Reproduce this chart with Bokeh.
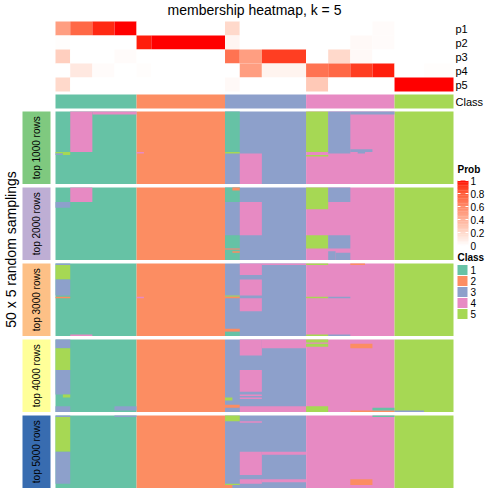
import numpy as np
from bokeh.plotting import figure
from bokeh.models import Range1d
from bokeh.embed import file_html
from bokeh.resources import INLINE
from bokeh.core.properties import value

# ---------------- data ----------------
title_text = "membership heatmap, k = 5"
row_title = "50 x 5 random samplings"

class_labels = [1, 1, 1, 1, 1, 1, 1, 1, 1, 1, 1,
                2, 2, 2, 2, 2, 2, 2, 2, 2, 2, 2, 2,
                3, 3, 3, 3, 3, 3, 3, 3, 3, 3, 3,
                4, 4, 4, 4, 4, 4, 4, 4, 4, 4, 4, 4,
                5, 5, 5, 5, 5, 5, 5, 5]

prob_names = ["p1", "p2", "p3", "p4", "p5"]
p1 = [0.5, 0.5, 0.75, 0.75, 0.75, 0.95, 0.95, 0.95, 1.0, 1.0, 1.0,
      0, 0, 0, 0, 0, 0, 0, 0, 0, 0, 0, 0,
      0.2, 0.2, 0, 0, 0, 0, 0, 0, 0, 0, 0,
      0, 0, 0, 0, 0, 0, 0, 0, 0, 0.02, 0.02, 0.02,
      0, 0, 0, 0, 0, 0, 0, 0]
p2 = [0.01, 0.01, 0, 0, 0, 0, 0, 0, 0, 0, 0,
      0.97, 0.97, 1.0, 1.0, 1.0, 1.0, 1.0, 1.0, 1.0, 1.0, 1.0, 1.0,
      0.05, 0.05, 0, 0, 0, 0, 0, 0, 0, 0, 0,
      0, 0, 0, 0, 0, 0, 0.03, 0.03, 0.03, 0.02, 0.02, 0.02,
      0, 0, 0, 0, 0, 0, 0, 0]
p3 = [0.25, 0.25, 0, 0, 0, 0, 0, 0, 0.02, 0.02, 0.02,
      0, 0, 0, 0, 0, 0, 0, 0, 0, 0, 0, 0,
      0.7, 0.7, 0.5, 0.5, 0.5, 0.9, 0.9, 0.9, 0.9, 0.9, 0.9,
      0, 0, 0, 0.2, 0.2, 0.2, 0.03, 0.03, 0.03, 0, 0, 0,
      0, 0, 0, 0, 0, 0, 0, 0]
p4 = [0, 0, 0.12, 0.12, 0.12, 0.02, 0.02, 0.02, 0, 0, 0,
      0.01, 0.01, 0, 0, 0, 0, 0, 0, 0, 0, 0, 0,
      0, 0, 0.5, 0.5, 0.5, 0.06, 0.06, 0.06, 0.06, 0.06, 0.06,
      0.7, 0.7, 0.7, 0.75, 0.75, 0.75, 0.9, 0.9, 0.9, 0.97, 0.97, 0.97,
      0, 0, 0, 0, 0.01, 0.01, 0.01, 0.01]
p5 = [0.2, 0.2, 0, 0, 0, 0, 0, 0, 0, 0, 0,
      0, 0, 0, 0, 0, 0, 0, 0, 0, 0, 0, 0,
      0.03, 0.03, 0, 0, 0, 0, 0, 0, 0, 0, 0,
      0.28, 0.28, 0.28, 0, 0, 0, 0, 0, 0, 0, 0, 0,
      1.0, 1.0, 1.0, 1.0, 1.0, 1.0, 1.0, 1.0]

panel_names = ["top 1000 rows", "top 2000 rows", "top 3000 rows",
               "top 4000 rows", "top 5000 rows"]
panel_colors = ["#7FC97F", "#BEAED4", "#FDC086", "#FFFF99", "#386CB0"]
class_names = ["1", "2", "3", "4", "5"]
class_colors = ["#66C2A5", "#FC8D62", "#8DA0CB", "#E78AC3", "#A6D854"]
n_samplings = 50

# per-panel deviations from the consensus class:
# (first sample, last sample, first sampling, last sampling, class)
panel1_changes = [(2, 4, 0, 27, 4), (5, 10, 0, 1, 4), (0, 0, 28, 28, 5),
                  (0, 0, 29, 29, 3), (1, 1, 28, 29, 5), (11, 11, 28, 28, 4),
                  (23, 24, 0, 27, 1), (23, 24, 28, 28, 5), (25, 27, 29, 49, 4),
                  (34, 36, 0, 27, 5), (34, 36, 30, 30, 5), (37, 39, 0, 28, 3),
                  (40, 45, 0, 1, 3), (40, 42, 26, 27, 3), (41, 41, 28, 28, 3)]
panel2_changes = [(2, 4, 0, 9, 4), (0, 1, 10, 13, 3), (23, 24, 0, 9, 1),
                  (24, 24, 0, 1, 2), (23, 24, 33, 41, 1), (23, 24, 42, 42, 2),
                  (23, 24, 43, 49, 1), (24, 24, 44, 44, 2), (25, 27, 10, 32, 4),
                  (34, 36, 0, 14, 5), (34, 36, 33, 41, 5), (37, 39, 0, 9, 3),
                  (37, 39, 33, 41, 3), (37, 37, 44, 49, 3), (38, 39, 45, 49, 3)]
panel3_changes = [(0, 1, 0, 0, 3), (0, 1, 1, 10, 5), (0, 1, 11, 21, 3),
                  (0, 1, 23, 23, 2), (2, 4, 49, 49, 4), (11, 11, 23, 23, 4),
                  (23, 24, 22, 22, 5), (23, 24, 23, 23, 2), (23, 24, 45, 46, 2),
                  (23, 24, 47, 49, 1), (25, 27, 0, 7, 4), (25, 27, 11, 21, 4),
                  (25, 27, 24, 32, 4), (28, 33, 0, 0, 4), (34, 36, 0, 0, 5),
                  (34, 36, 23, 23, 5), (34, 36, 49, 49, 5), (37, 39, 23, 23, 3),
                  (37, 39, 49, 49, 3), (40, 41, 0, 0, 2)]
panel4_changes = [(0, 1, 0, 5, 3), (0, 1, 6, 20, 5), (0, 1, 21, 37, 3),
                  (1, 1, 38, 39, 5), (0, 1, 46, 49, 3), (8, 10, 46, 48, 3),
                  (23, 23, 40, 41, 5), (23, 24, 45, 46, 2), (25, 27, 0, 10, 4),
                  (25, 27, 21, 35, 4), (25, 27, 38, 38, 4), (25, 27, 40, 40, 4),
                  (25, 33, 46, 49, 4), (28, 33, 0, 5, 4), (34, 36, 0, 1, 5),
                  (34, 36, 3, 4, 5), (34, 36, 46, 49, 5), (40, 42, 3, 5, 2),
                  (40, 45, 49, 49, 2), (43, 45, 47, 48, 1), (46, 49, 49, 49, 3)]
panel5_changes = [(0, 1, 0, 0, 3), (0, 1, 1, 24, 5), (0, 1, 25, 46, 3),
                  (8, 10, 0, 0, 3), (23, 24, 0, 3, 5), (23, 24, 47, 47, 5),
                  (23, 23, 48, 49, 2), (25, 27, 4, 4, 4), (25, 27, 25, 40, 4),
                  (25, 27, 44, 46, 4), (28, 33, 25, 26, 4), (28, 33, 44, 45, 4),
                  (40, 42, 44, 47, 2), (43, 45, 0, 0, 1)]

prob_ticks = [0, 0.2, 0.4, 0.6, 0.8, 1]
prob_tick_labels = ["0", "0.2", "0.4", "0.6", "0.8", "1"]

# ---------------- colour helpers (white -> red in LAB) ----------------
def _to_lab(hexc):
    c = np.array([int(hexc[i:i + 2], 16) for i in (1, 3, 5)]) / 255.0
    c = np.where(c <= 0.04045, c / 12.92, ((c + 0.055) / 1.055) ** 2.4)
    M = np.array([[0.4124, 0.3576, 0.1805], [0.2126, 0.7152, 0.0722],
                  [0.0193, 0.1192, 0.9505]])
    xyz = M @ c / np.array([0.95047, 1.0, 1.08883])
    f = np.where(xyz > 0.008856, np.cbrt(xyz), 7.787 * xyz + 16 / 116)
    return np.array([116 * f[1] - 16, 500 * (f[0] - f[1]), 200 * (f[1] - f[2])])

def _from_lab(lab):
    fy = (lab[0] + 16) / 116
    fx = fy + lab[1] / 500
    fz = fy - lab[2] / 200
    f = np.array([fx, fy, fz])
    xyz = np.where(f ** 3 > 0.008856, f ** 3, (f - 16 / 116) / 7.787)
    xyz = xyz * np.array([0.95047, 1.0, 1.08883])
    Mi = np.array([[3.2406, -1.5372, -0.4986], [-0.9689, 1.8758, 0.0415],
                   [0.0557, -0.2040, 1.0570]])
    c = Mi @ xyz
    c = np.where(c <= 0.0031308, 12.92 * c, 1.055 * np.clip(c, 0, None) ** (1 / 2.4) - 0.055)
    c = np.clip(np.round(c * 255), 0, 255).astype(int)
    return "#%02x%02x%02x" % tuple(c)

LAB_W = _to_lab("#FFFFFF")
LAB_R = _to_lab("#FF0000")

def prob_color(v):
    return _from_lab(LAB_W + (LAB_R - LAB_W) * v)

# ---------------- layout ----------------
W = H = 488
HX0, HX1 = 55, 453
ns = len(class_labels)
pps = (HX1 - HX0) / ns

def X(px):
    return (px - HX0) / pps

ANN_TOP, ANN_H = 21, 14
CLASS_TOP, CLASS_H = 94, 14
PANEL_TOP, PANEL_PITCH, PANEL_H = 111, 76, 72.5
rh = PANEL_H / n_samplings
FONT = value("Liberation Sans")

p = figure(width=W, height=H, x_range=Range1d(X(0), X(W)), y_range=Range1d(H, 0),
           toolbar_location=None, output_backend="svg", min_border=0,
           x_axis_location=None, y_axis_location=None)
p.xgrid.visible = False
p.ygrid.visible = False
p.outline_line_color = None
p.background_fill_color = "white"
p.border_fill_color = "white"

def runs(vals):
    out = []
    s = 0
    for i in range(1, len(vals) + 1):
        if i == len(vals) or vals[i] != vals[s]:
            out.append((s, i - 1, vals[s]))
            s = i
    return out

# top annotation: probabilities
L, R, T, B, C = [], [], [], [], []
for k, row in enumerate([p1, p2, p3, p4, p5]):
    for s, e, v in runs(row):
        L.append(s); R.append(e + 1)
        T.append(ANN_TOP + k * ANN_H); B.append(ANN_TOP + (k + 1) * ANN_H)
        C.append(prob_color(v))
# class bar
for s, e, v in runs(class_labels):
    L.append(s); R.append(e + 1)
    T.append(CLASS_TOP); B.append(CLASS_TOP + CLASS_H)
    C.append(class_colors[v - 1])
p.quad(left=L, right=R, top=T, bottom=B, fill_color=C, line_color=None)

# main panels
all_changes = [panel1_changes, panel2_changes, panel3_changes, panel4_changes, panel5_changes]
L, R, T, B, C = [], [], [], [], []
for k, changes in enumerate(all_changes):
    top = PANEL_TOP + k * PANEL_PITCH
    for s, e, v in runs(class_labels):
        L.append(s); R.append(e + 1); T.append(top); B.append(top + PANEL_H)
        C.append(class_colors[v - 1])
    for s, e, r0, r1, v in changes:
        L.append(s); R.append(e + 1)
        T.append(top + r0 * rh); B.append(top + (r1 + 1) * rh)
        C.append(class_colors[v - 1])
p.quad(left=L, right=R, top=T, bottom=B, fill_color=C, line_color=None)

# panel label strips
SX0, SX1 = 22, 50
ptops = [PANEL_TOP + k * PANEL_PITCH for k in range(5)]
p.quad(left=[X(SX0)] * 5, right=[X(SX1)] * 5, top=ptops,
       bottom=[t + PANEL_H for t in ptops], fill_color=panel_colors, line_color=None)
p.text(x=[X((SX0 + SX1) / 2)] * 5, y=[t + PANEL_H / 2 for t in ptops], text=panel_names,
       angle=np.pi / 2, text_font=FONT, text_font_size="10px", text_color="black",
       text_align="center", text_baseline="middle")

# row title
p.text(x=[X(10)], y=[249], text=[row_title], angle=np.pi / 2, text_font=FONT,
       text_font_size="14px", text_align="center", text_baseline="middle")
# title
p.text(x=[X((HX0 + HX1) / 2)], y=[9], text=[title_text], text_font=FONT,
       text_font_size="14px", text_align="center", text_baseline="middle")

# annotation names
p.text(x=[X(HX1 + 2)] * 6,
       y=[ANN_TOP + (k + 0.5) * ANN_H for k in range(5)] + [CLASS_TOP + CLASS_H / 2],
       text=prob_names + ["Class"], text_font=FONT, text_font_size="11px",
       text_align="left", text_baseline="middle")

# Prob legend
LX0, LX1 = 457, 468
CB_TOP, CB_BOT = 180, 245
p.text(x=[X(LX0)], y=[169], text=["Prob"], text_font=FONT, text_font_size="10px",
       text_font_style="bold", text_align="left", text_baseline="middle")
nseg = 40
edges = np.linspace(0, 1, nseg + 1)
p.quad(left=[X(LX0)] * nseg, right=[X(LX1)] * nseg,
       top=[CB_BOT - (CB_BOT - CB_TOP) * edges[i + 1] for i in range(nseg)],
       bottom=[CB_BOT - (CB_BOT - CB_TOP) * edges[i] + 0.3 for i in range(nseg)],
       fill_color=[prob_color((edges[i] + edges[i + 1]) / 2) for i in range(nseg)],
       line_color=None)
ty = [CB_BOT - (CB_BOT - CB_TOP) * v for v in prob_ticks]
p.segment(x0=[X(LX0)] * 6, x1=[X(LX0 + 3)] * 6, y0=ty, y1=ty, line_color="white", line_width=1)
p.segment(x0=[X(LX1 - 3)] * 6, x1=[X(LX1)] * 6, y0=ty, y1=ty, line_color="white", line_width=1)
p.text(x=[X(LX1 + 2)] * 6, y=ty, text=prob_tick_labels, text_font=FONT,
       text_font_size="10px", text_align="left", text_baseline="middle")

# Class legend
p.text(x=[X(LX0)], y=[256.5], text=["Class"], text_font=FONT, text_font_size="10px",
       text_font_style="bold", text_align="left", text_baseline="middle")
sq_tops = [264.5 + 11 * i for i in range(5)]
p.quad(left=[X(LX0)] * 5, right=[X(LX0 + 10)] * 5, top=sq_tops,
       bottom=[t + 10 for t in sq_tops], fill_color=class_colors, line_color=None)
p.text(x=[X(LX1 + 2)] * 5, y=[t + 5 for t in sq_tops], text=class_names, text_font=FONT,
       text_font_size="10px", text_align="left", text_baseline="middle")

open("out.html", "w").write(file_html(p, INLINE))
